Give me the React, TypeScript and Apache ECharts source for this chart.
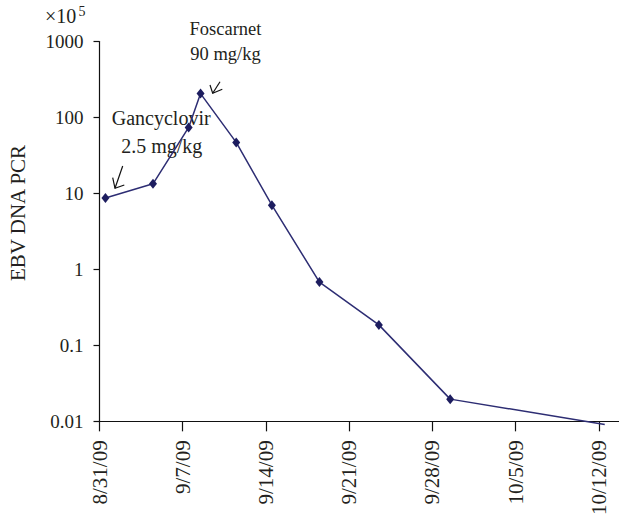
import React, { useEffect, useRef } from "react";
import * as echarts from "echarts";

// ---- data ----
const pointDates = ["8/31/09", "9/4/09", "9/7/09", "9/8/09", "9/11/09", "9/14/09", "9/18/09", "9/23/09", "9/29/09", "10/12/09"];
const ebvValues = [8.7, 13.4, 74, 206, 47, 7.0, 0.68, 0.186, 0.0196, 0.0091];
const tickDates = ["8/31/09", "9/7/09", "9/14/09", "9/21/09", "9/28/09", "10/5/09", "10/12/09"];
const yTickLabels = ["0.01", "0.1", "1", "10", "100", "1000"];

const FONT = '"Liberation Serif", "DejaVu Serif", serif';
const TEXT = "#231f20";

function dayIndex(s: string): number {
  const [m, d, y] = s.split("/").map(Number);
  return (Date.UTC(2000 + y, m - 1, d) - Date.UTC(2009, 7, 31)) / 86400000;
}

export default function App() {
  const ref = useRef<HTMLDivElement>(null);
  useEffect(() => {
    if (!ref.current) return;
    const chart = echarts.init(ref.current, null, { renderer: "svg" });
    const tickVals = tickDates.map(dayIndex);
    // points plotted at mid-day, as on a date axis
    const seriesData = pointDates.map((d, i) => {
      const item: any = { value: [dayIndex(d) + 0.5, ebvValues[i]] };
      if (i === pointDates.length - 1) item.symbol = "none";
      return item;
    });
    const arrowStyle = { stroke: "#111", lineWidth: 1.2, fill: null };
    chart.setOption({
      animation: false,
      backgroundColor: "#ffffff",
      grid: { left: 99.5, right: 0, top: 41.5, bottom: 95.7 },
      xAxis: {
        type: "value",
        min: 0,
        max: 43.7,
        axisLine: { show: true, lineStyle: { color: "#111", width: 1.2 } },
        axisTick: { show: true, length: 10, customValues: tickVals, lineStyle: { color: "#111", width: 1.2 } },
        axisLabel: {
          customValues: tickVals,
          rotate: 90,
          margin: 19,
          fontSize: 21,
          fontFamily: FONT,
          color: TEXT,
          formatter: (v: number) => {
            const idx = tickVals.findIndex((t) => Math.abs(t - v) < 1e-6);
            return idx >= 0 ? tickDates[idx] : "";
          },
        },
        splitLine: { show: false },
      },
      yAxis: {
        type: "log",
        logBase: 10,
        min: 0.01,
        max: 1000,
        axisLine: { show: true, lineStyle: { color: "#111", width: 1.2 } },
        axisTick: { show: true, length: 6, lineStyle: { color: "#111", width: 1.2 } },
        minorTick: { show: false },
        axisLabel: {
          margin: 16,
          fontSize: 19,
          fontFamily: FONT,
          color: TEXT,
          formatter: (v: number) => {
            const e = Math.round(Math.log10(v));
            return yTickLabels[e + 2] ?? "";
          },
        },
        splitLine: { show: false },
      },
      series: [
        {
          type: "line",
          data: seriesData,
          clip: false,
          symbol: "diamond",
          symbolSize: [8, 10],
          itemStyle: { color: "#1d1d5f" },
          lineStyle: { color: "#2d2d73", width: 1.5 },
        },
      ],
      graphic: [
        {
          type: "text",
          x: 17.5,
          y: 213,
          rotation: Math.PI / 2,
          style: { text: "EBV DNA PCR", fontSize: 21, fontFamily: FONT, fill: TEXT, align: "center", verticalAlign: "middle" },
        },
        {
          type: "text",
          x: 45,
          y: 15.9,
          style: { text: "×10", fontSize: 20, fontFamily: FONT, fill: TEXT, align: "left", verticalAlign: "middle" },
        },
        {
          type: "text",
          x: 78.5,
          y: 11,
          style: { text: "5", fontSize: 14, fontFamily: FONT, fill: TEXT, align: "left", verticalAlign: "middle" },
        },
        {
          type: "text",
          x: 225.5,
          y: 28.7,
          style: { text: "Foscarnet", fontSize: 18.5, fontFamily: FONT, fill: TEXT, align: "center", verticalAlign: "middle" },
        },
        {
          type: "text",
          x: 225.5,
          y: 53.7,
          style: { text: "90 mg/kg", fontSize: 18.5, fontFamily: FONT, fill: TEXT, align: "center", verticalAlign: "middle" },
        },
        {
          type: "text",
          x: 161.2,
          y: 118.2,
          style: { text: "Gancyclovir", fontSize: 20, fontFamily: FONT, fill: TEXT, align: "center", verticalAlign: "middle" },
        },
        {
          type: "text",
          x: 161.7,
          y: 145.9,
          style: { text: "2.5 mg/kg", fontSize: 20, fontFamily: FONT, fill: TEXT, align: "center", verticalAlign: "middle" },
        },
        { type: "line", shape: { x1: 220, y1: 81.7, x2: 212.7, y2: 93.3 }, style: arrowStyle },
        { type: "polyline", shape: { points: [[210, 85], [212.7, 93.3], [222.3, 89.3]] }, style: arrowStyle },
        { type: "line", shape: { x1: 122.7, y1: 166, x2: 115, y2: 188.3 }, style: arrowStyle },
        { type: "polyline", shape: { points: [[112.7, 177.7], [115, 188.3], [124.3, 185]] }, style: arrowStyle },
      ],
    });
    return () => chart.dispose();
  }, []);
  return <div ref={ref} style={{ position: "fixed", left: 0, top: 0, width: 619, height: 518 }} />;
}
